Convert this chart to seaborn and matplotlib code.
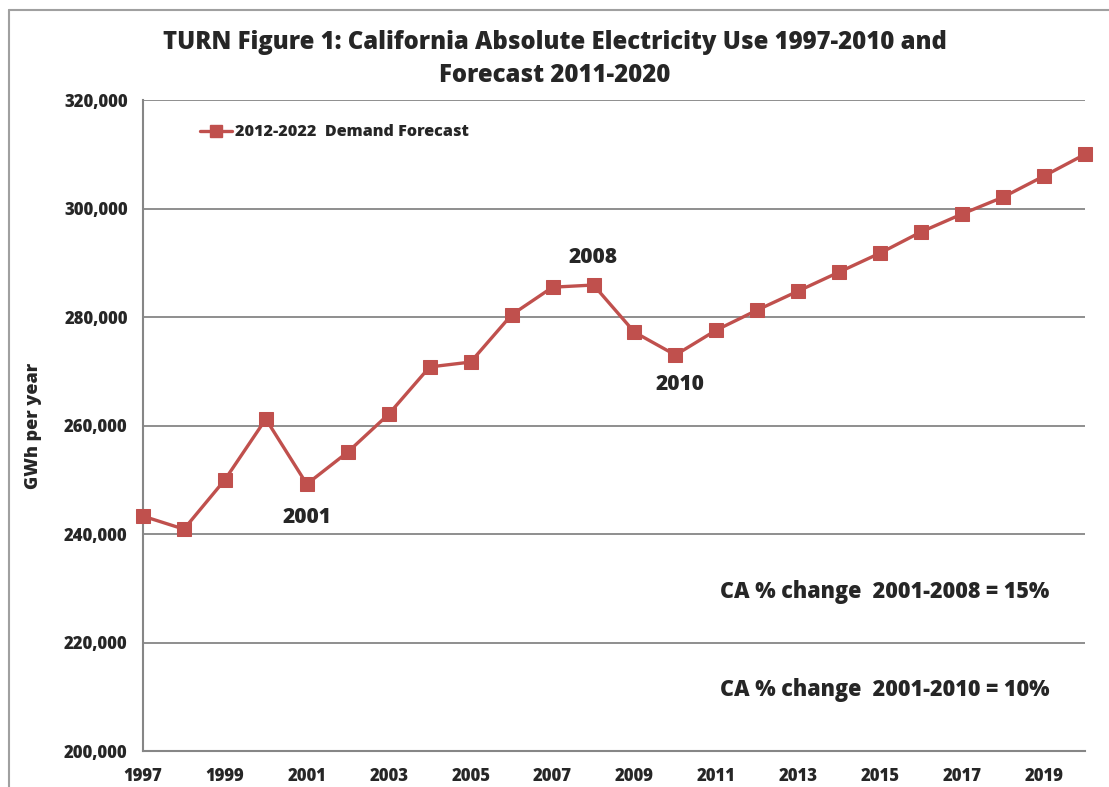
import matplotlib
matplotlib.use("Agg")
import matplotlib.pyplot as plt
import seaborn as sns
import pandas as pd
from matplotlib.ticker import FuncFormatter, MultipleLocator
from matplotlib.lines import Line2D

years = list(range(1997, 2021))
gwh = [243300, 240900, 250000, 261200, 249200, 255100, 262100, 270800, 271700,
       280400, 285500, 285900, 277200, 273000, 277600, 281300, 284800, 288300,
       291800, 295700, 299000, 302100, 306000, 310000]
series_label = "2012-2022  Demand Forecast"
title = "TURN Figure 1: California Absolute Electricity Use 1997-2010 and\nForecast 2011-2020"
ylabel = "GWh per year"
notes = ["CA % change  2001-2008 = 15%", "CA % change  2001-2010 = 10%"]
year_labels = ["2001", "2008", "2010"]

df = pd.DataFrame({"year": years, "gwh": gwh})

sns.set_style("white")
plt.rcParams['font.family'] = ['Open Sans', 'DejaVu Sans']
W = 'heavy'
plt.rcParams['font.weight'] = W

red = "#C0504D"
grey = "#868686"

fig = plt.figure(figsize=(11.09, 7.87), dpi=100)
ax = fig.add_axes([0.1289, 0.0457, 0.8495, 0.8272])

sns.lineplot(data=df, x="year", y="gwh", ax=ax, color=red, linewidth=2.4,
             marker="s", markersize=10, markeredgecolor=red, markerfacecolor=red,
             label=series_label, legend=False, clip_on=False, zorder=5)

ax.set_xlim(1997, 2020)
ax.set_ylim(200000, 320000)
ax.yaxis.set_major_locator(MultipleLocator(20000))
ax.yaxis.set_major_formatter(FuncFormatter(lambda v, p: f"{int(v):,}"))
ax.set_xticks(years)
ax.set_xticklabels([str(y) if (y - 1997) % 2 == 0 else "" for y in years])

ax.grid(axis="y", color=grey, linewidth=1.3)
ax.set_axisbelow(True)
for s in ["top", "right"]:
    ax.spines[s].set_visible(False)
for s in ["left", "bottom"]:
    ax.spines[s].set_color(grey)
    ax.spines[s].set_linewidth(1.5)
ax.tick_params(axis="both", which="major", direction="out", length=6, width=1.2,
               color=grey, labelsize=12, pad=4)
ax.tick_params(axis="x", pad=6)
ax.tick_params(axis="y", pad=5)
for lab in ax.get_xticklabels() + ax.get_yticklabels():
    lab.set_fontweight(W)

ax.set_xlabel("")
ax.set_ylabel(ylabel, fontsize=13, fontweight=W, labelpad=16)

fig.suptitle(title, x=0.5, y=0.962, fontsize=17.2, fontweight=W, linespacing=1.42,
             va="top")

handle = Line2D([], [], color=red, linewidth=2.4, marker="s", markersize=9)
ax.legend([handle], [series_label], loc="upper left", bbox_to_anchor=(0.045, 0.985),
          frameon=False, handlelength=2.0, handletextpad=0.2,
          prop={"size": 11.6, "weight": W})

ax.text(2001, 243000, year_labels[0], ha="center", va="center", fontsize=15, fontweight=W)
ax.text(2008, 290900, year_labels[1], ha="center", va="center", fontsize=15, fontweight=W)
ax.text(2010.1, 267600, year_labels[2], ha="center", va="center", fontsize=15, fontweight=W)
ax.text(2015.1, 229300, notes[0], ha="center", va="center", fontsize=15.5, fontweight=W)
ax.text(2015.1, 211200, notes[1], ha="center", va="center", fontsize=15.5, fontweight=W)

# chart frame
fig.add_artist(Line2D([0.0085, 0.0085], [0.0, 0.987], color="#A0A0A0", linewidth=1.5,
                      transform=fig.transFigure))
fig.add_artist(Line2D([0.0085, 1.0], [0.987, 0.987], color="#A0A0A0", linewidth=1.5,
                      transform=fig.transFigure))

fig.savefig("out.png", dpi=100)
